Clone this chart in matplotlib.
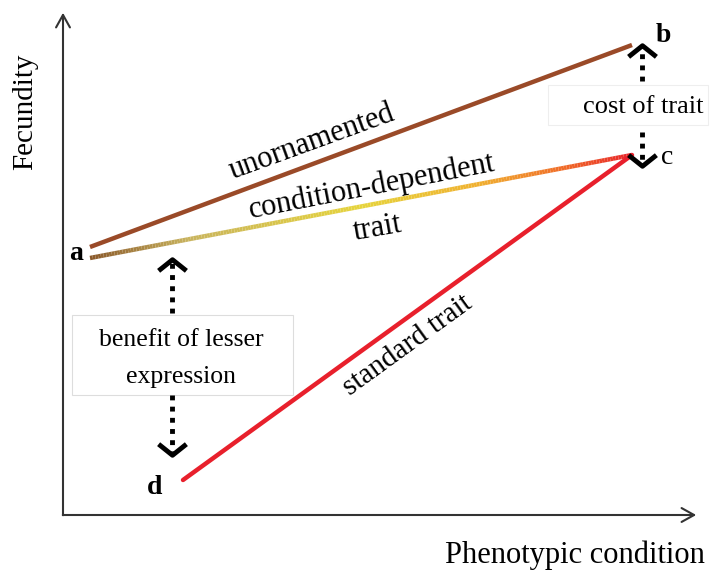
import numpy as np
import matplotlib.pyplot as plt
from matplotlib.collections import LineCollection
from matplotlib.colors import LinearSegmentedColormap
from matplotlib.path import Path

# points of the conceptual diagram (condition, fecundity), origin at the axes corner
a_unorn = (27, 268)
a_cond = (27, 257)
b = (569, 470)
c = (569, 360)
d = (120, 35)

labels = ['a', 'b', 'c', 'd']
label_pos = [(13, 262), (600, 480), (604, 358), (92, 28)]
label_bold = [True, True, False, True]

cost_up = [(579, 434), (579, 467)]
cost_down = [(579, 383), (579, 352)]
benefit_up = [(109, 202), (109, 253)]
benefit_down = [(109, 120), (109, 63)]

plt.rcParams['font.family'] = ['Liberation Serif', 'DejaVu Serif']

fig = plt.figure(figsize=(7.1, 5.76), dpi=100)
ax = fig.add_axes([0, 0, 1, 1])
ax.set_xlim(-63, 647)
ax.set_ylim(-61, 515)
ax.axis('off')

# axes with arrows
ax.annotate('', xy=(0, 505), xytext=(0, -3),
            arrowprops=dict(arrowstyle='->, head_length=0.9, head_width=0.5', lw=1.5, color='#333333'))
ax.annotate('', xy=(636, 0), xytext=(-3, 0),
            arrowprops=dict(arrowstyle='->, head_length=0.9, head_width=0.5', lw=1.5, color='#333333'))
ax.text(-38, 403, 'Fecundity', rotation=90, ha='center', va='center', fontsize=21)
ax.text(512, -40, 'Phenotypic condition', ha='center', va='center', fontsize=22)

# unornamented
ax.plot([a_unorn[0], b[0]], [a_unorn[1], b[1]], color='#9a4a28', lw=3.2, solid_capstyle='butt')

# condition-dependent trait with colour gradient
cmap = LinearSegmentedColormap.from_list(
    'cd', [(0, '#8b5a2b'), (0.18, '#c9b45e'), (0.5, '#e6d43c'), (0.72, '#f0b030'), (0.88, '#f06a28'), (1, '#e8262a')])
t = np.linspace(0, 1, 200)
xs = a_cond[0] + t * (c[0] - a_cond[0])
ys = a_cond[1] + t * (c[1] - a_cond[1])
pts = np.column_stack([xs, ys]).reshape(-1, 1, 2)
segs = np.concatenate([pts[:-1], pts[1:]], axis=1)
lc = LineCollection(segs, cmap=cmap, lw=3.2, capstyle='butt')
lc.set_array(t[:-1])
ax.add_collection(lc)

# standard trait
ax.plot([d[0], c[0]], [d[1], c[1]], color='#e8202c', lw=3.2, solid_capstyle='round')

# line labels
ax.text(249, 373, 'unornamented', rotation=20, ha='center', va='center', fontsize=22)
ax.text(309, 328, 'condition-dependent', rotation=11, ha='center', va='center', fontsize=22)
ax.text(315, 287, 'trait', rotation=10, ha='center', va='center', fontsize=22)
ax.text(345, 170, 'standard trait', rotation=36, ha='center', va='center', fontsize=21)

for lab, (x, y), bold in zip(labels, label_pos, label_bold):
    ax.text(x, y, lab, ha='center', va='center', fontsize=20,
            fontweight='bold' if bold else 'normal')

# dotted arrows with chevron heads
chev_up = Path([(-1, -0.6), (0, 0.2), (1, -0.6)], [Path.MOVETO, Path.LINETO, Path.LINETO])
chev_down = Path([(-1, 0.6), (0, -0.2), (1, 0.6)], [Path.MOVETO, Path.LINETO, Path.LINETO])
for (p0, p1), head in [(cost_up, chev_up), (cost_down, chev_down),
                       (benefit_up, chev_up), (benefit_down, chev_down)]:
    ax.plot([p0[0], p1[0]], [p0[1], p1[1]], color='black', lw=3.5, ls=(0, (1, 1.3)))
    ax.plot([p1[0]], [p1[1]], marker=head, ms=20, mfc='none', mec='black', mew=3.5)

# text boxes
ax.add_patch(plt.Rectangle((9, 120), 221, 80, fill=True, fc='white', ec='#dddddd', lw=0.8))
ax.text(118, 175, 'benefit of lesser', ha='center', va='center', fontsize=18.5)
ax.text(118, 138, 'expression', ha='center', va='center', fontsize=18.5)
ax.add_patch(plt.Rectangle((485, 390), 160, 40, fill=True, fc='white', ec='#eeeeee', lw=0.8))
ax.text(580, 408, 'cost of trait', ha='center', va='center', fontsize=19)

fig.savefig('out.png', dpi=100)
